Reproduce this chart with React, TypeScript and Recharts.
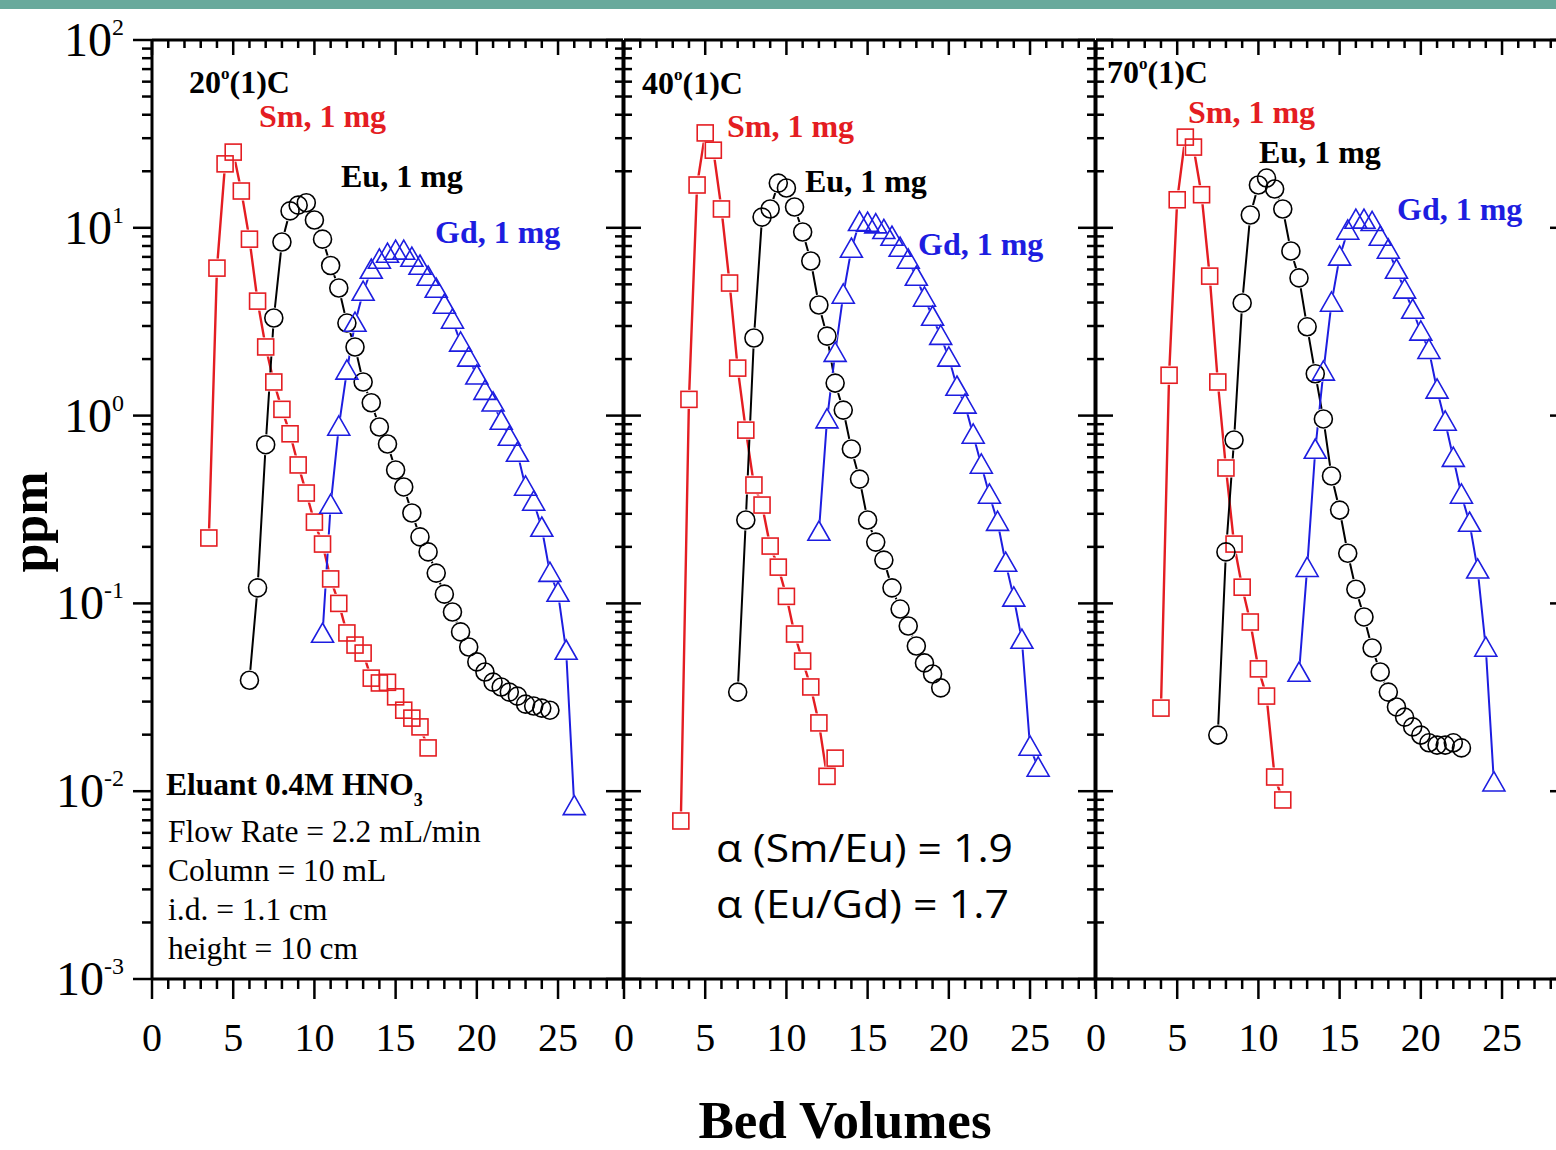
import React from "react";
import { LineChart, Line, XAxis, YAxis } from "recharts";

const SERIF = '"Liberation Serif", "Times New Roman", serif';
const SANS = '"Open Sans", "Noto Sans", sans-serif';
const RED = "#e41d22";
const BLUE = "#1d1de0";
const BLACK = "#000";
const TEAL = "#69a99c";

// fractions every 0.5 bed volume
const STEP = 0.5;
const X_MAX = 29;
const X_MAJOR = [0, 5, 10, 15, 20, 25];
const DECADES = [-3, -2, -1, 0, 1, 2];

// 20 C
const SM_20_START = 3.5;
const SM_20 = [0.223, 6.1, 21.9, 25.3, 15.7, 8.7, 4.07, 2.32, 1.51, 1.08, 0.8, 0.546, 0.387, 0.271, 0.207, 0.135, 0.1, 0.0696, 0.06, 0.0544, 0.04, 0.0377, 0.038, 0.0318, 0.027, 0.0245, 0.022, 0.017];
const EU_20_START = 6.0;
const EU_20 = [0.039, 0.121, 0.7, 3.31, 8.4, 12.3, 13.2, 13.6, 11.0, 8.7, 6.3, 4.78, 3.11, 2.32, 1.51, 1.17, 0.87, 0.706, 0.513, 0.417, 0.303, 0.226, 0.188, 0.145, 0.112, 0.09, 0.0705, 0.0586, 0.0488, 0.0431, 0.0381, 0.0359, 0.0337, 0.0321, 0.0291, 0.0284, 0.0277, 0.027];
const GD_20_START = 10.5;
const GD_20 = [0.0687, 0.334, 0.87, 1.73, 3.11, 4.55, 5.96, 6.74, 7.25, 7.52, 7.52, 6.9, 6.26, 5.47, 4.72, 3.88, 3.23, 2.44, 2.03, 1.63, 1.35, 1.17, 0.936, 0.769, 0.632, 0.417, 0.347, 0.252, 0.145, 0.1135, 0.0558, 0.0083];

// 40 C
const SM_40_START = 3.5;
const SM_40 = [0.00694, 1.22, 16.9, 32.0, 25.9, 12.6, 5.08, 1.79, 0.837, 0.427, 0.334, 0.202, 0.156, 0.109, 0.0687, 0.0493, 0.0359, 0.0231, 0.012, 0.015];
const EU_40_START = 7.0;
const EU_40 = [0.0337, 0.278, 2.59, 11.4, 12.6, 17.3, 16.3, 12.9, 9.5, 6.66, 3.88, 2.65, 1.49, 1.07, 0.664, 0.459, 0.278, 0.212, 0.17, 0.121, 0.0933, 0.0758, 0.0593, 0.0482, 0.0421, 0.0355];
const GD_40_START = 12.0;
const GD_40 = [0.24, 0.952, 2.15, 4.39, 7.71, 10.7, 10.6, 10.4, 9.7, 8.93, 7.8, 6.74, 5.47, 4.23, 3.35, 2.65, 2.03, 1.42, 1.14, 0.789, 0.546, 0.378, 0.271, 0.164, 0.107, 0.0638, 0.0172, 0.0133];

// 70 C
const SM_70_START = 4.0;
const SM_70 = [0.0277, 1.64, 14.1, 30.4, 26.9, 15.0, 5.53, 1.51, 0.526, 0.207, 0.122, 0.0796, 0.0448, 0.0321, 0.0119, 0.00898];
const EU_70_START = 7.5;
const EU_70 = [0.0199, 0.188, 0.741, 3.98, 11.7, 16.9, 18.4, 16.1, 12.6, 7.52, 5.41, 2.97, 1.67, 0.96, 0.477, 0.314, 0.185, 0.119, 0.0847, 0.0579, 0.0431, 0.0337, 0.0281, 0.0248, 0.022, 0.0199, 0.0181, 0.0176, 0.0176, 0.0181, 0.017];
const GD_70_START = 12.5;
const GD_70 = [0.0426, 0.154, 0.656, 1.71, 3.98, 7.0, 9.62, 11.0, 11.0, 10.7, 8.93, 7.62, 5.96, 4.67, 3.65, 2.79, 2.23, 1.37, 0.925, 0.594, 0.378, 0.268, 0.151, 0.0579, 0.0111];

const toPoints = (start: number, vals: number[]) =>
  vals.map((v, i) => ({ bv: start + i * STEP, ppm: v }));

const X_TICKS = Array.from({ length: X_MAX + 1 }, (_, i) => i);
const Y_TICKS = DECADES.flatMap((e) =>
  e === DECADES[DECADES.length - 1] ? [Math.pow(10, e)] : [1, 2, 3, 4, 5, 6, 7, 8, 9].map((m) => m * Math.pow(10, e))
);

const PLOT_W = 471;
const PLOT_TOP = 40;
const PLOT_BOTTOM = 979;
const CHART_W = 1620;
const CHART_H = 1150;

const PANELS = [
  { left: 152, sm: toPoints(SM_20_START, SM_20), eu: toPoints(EU_20_START, EU_20), gd: toPoints(GD_20_START, GD_20) },
  { left: 624, sm: toPoints(SM_40_START, SM_40), eu: toPoints(EU_40_START, EU_40), gd: toPoints(GD_40_START, GD_40) },
  { left: 1096, sm: toPoints(SM_70_START, SM_70), eu: toPoints(EU_70_START, EU_70), gd: toPoints(GD_70_START, GD_70) },
];

const isDecade = (v: number) => Math.abs(Math.log10(v) - Math.round(Math.log10(v))) < 1e-6;

const BottomTick = (props: any) => {
  const { x, y, payload } = props;
  const v = payload.value;
  const major = X_MAJOR.includes(v);
  return (
    <g>
      <line x1={x} x2={x} y1={y} y2={y + (major ? 20 : 10)} stroke={BLACK} strokeWidth={2.5} />
      {major && (
        <text x={x} y={y + 72} textAnchor="middle" fontFamily={SERIF} fontSize={40} fill={BLACK}>
          {v}
        </text>
      )}
    </g>
  );
};

const TopTick = (props: any) => {
  const { x, y, payload } = props;
  const major = X_MAJOR.includes(payload.value);
  return <line x1={x} x2={x} y1={y} y2={y + (major ? 15 : 8)} stroke={BLACK} strokeWidth={2.5} />;
};

const LeftTick = (props: any) => {
  const { x, y, payload, outward } = props;
  const v = payload.value;
  const major = isDecade(v);
  if (!outward) {
    return <line x1={x} x2={x + (major ? 17 : 8)} y1={y} y2={y} stroke={BLACK} strokeWidth={2.5} />;
  }
  return (
    <g>
      <line x1={x} x2={x - (major ? 19 : 10)} y1={y} y2={y} stroke={BLACK} strokeWidth={2.5} />
      {major && (
        <text x={x - 28} y={y + 16} textAnchor="end" fontFamily={SERIF} fontSize={48} fill={BLACK}>
          10
          <tspan dy={-21} fontSize={24}>
            {Math.round(Math.log10(v))}
          </tspan>
        </text>
      )}
    </g>
  );
};

const RightTick = (props: any) => {
  const { x, y, payload } = props;
  const major = isDecade(payload.value);
  return <line x1={x} x2={x - (major ? 17 : 8)} y1={y} y2={y} stroke={BLACK} strokeWidth={2.5} />;
};

const square = (color: string, fill: string, s: number, sw: number) => (p: any) => (
  <rect key={`s${p.index}`} x={p.cx - s / 2} y={p.cy - s / 2} width={s} height={s} fill={fill} stroke={color} strokeWidth={sw} />
);
const circle = (color: string, fill: string, r: number, sw: number) => (p: any) => (
  <circle key={`c${p.index}`} cx={p.cx} cy={p.cy} r={r} fill={fill} stroke={color} strokeWidth={sw} />
);
const triangle = (color: string, fill: string, h: number, sw: number) => (p: any) => (
  <path
    key={`t${p.index}`}
    d={`M${p.cx},${p.cy - h} L${p.cx + h},${p.cy + h * 0.75} L${p.cx - h},${p.cy + h * 0.75} Z`}
    fill={fill}
    stroke={color}
    strokeWidth={sw}
    strokeLinejoin="miter"
  />
);

const PanelChart = ({ p, idx }: { p: (typeof PANELS)[number]; idx: number }) => {
  const common = { xAxisId: "b", yAxisId: "l", dataKey: "ppm", isAnimationActive: false, activeDot: false } as const;
  return (
    <LineChart
      width={CHART_W}
      height={CHART_H}
      margin={{ top: PLOT_TOP - 20, left: p.left - 40, right: CHART_W - p.left - PLOT_W - 40, bottom: CHART_H - PLOT_BOTTOM - 20 }}
    >
      <XAxis
        xAxisId="b"
        type="number"
        dataKey="bv"
        domain={[0, X_MAX]}
        ticks={X_TICKS}
        interval={0}
        height={20}
        tickSize={0}
        tickMargin={0}
        tickLine={false}
        axisLine={{ stroke: BLACK, strokeWidth: 3 }}
        tick={BottomTick}
        allowDataOverflow
      />
      <XAxis
        xAxisId="t"
        orientation="top"
        type="number"
        dataKey="bv"
        domain={[0, X_MAX]}
        ticks={X_TICKS}
        interval={0}
        height={20}
        tickSize={0}
        tickMargin={0}
        tickLine={false}
        axisLine={{ stroke: BLACK, strokeWidth: 3 }}
        tick={TopTick}
        allowDataOverflow
      />
      <YAxis
        yAxisId="l"
        type="number"
        scale="log"
        domain={[0.001, 100]}
        ticks={Y_TICKS}
        interval={0}
        width={40}
        tickSize={0}
        tickMargin={0}
        tickLine={false}
        axisLine={{ stroke: BLACK, strokeWidth: 3 }}
        tick={(tp: any) => <LeftTick {...tp} outward={idx === 0} />}
        allowDataOverflow
      />
      <YAxis
        yAxisId="r"
        orientation="right"
        type="number"
        scale="log"
        domain={[0.001, 100]}
        ticks={Y_TICKS}
        interval={0}
        width={40}
        tickSize={0}
        tickMargin={0}
        tickLine={false}
        axisLine={{ stroke: BLACK, strokeWidth: 3 }}
        tick={RightTick}
        allowDataOverflow
      />
      {/* connecting lines */}
      <Line {...common} data={p.sm} stroke={RED} strokeWidth={2.4} dot={false} />
      <Line {...common} data={p.eu} stroke={BLACK} strokeWidth={2} dot={false} />
      <Line {...common} data={p.gd} stroke={BLUE} strokeWidth={2} dot={false} />
      {/* gaps around the symbols */}
      <Line {...common} data={p.sm} stroke="none" dot={square("none", "#fff", 19, 0)} />
      <Line {...common} data={p.eu} stroke="none" dot={circle("none", "#fff", 10.5, 0)} />
      <Line {...common} data={p.gd} stroke="none" dot={triangle("none", "#fff", 12.5, 0)} />
      {/* open symbols */}
      <Line {...common} data={p.sm} stroke="none" dot={square(RED, "none", 16, 1.6)} />
      <Line {...common} data={p.eu} stroke="none" dot={circle(BLACK, "none", 9, 1.6)} />
      <Line {...common} data={p.gd} stroke="none" dot={triangle(BLUE, "none", 11, 1.6)} />
    </LineChart>
  );
};

const Label = ({ x, y, color, text }: { x: number; y: number; color: string; text: string }) => (
  <text x={x} y={y} fill={color} fontFamily={SERIF} fontWeight="bold" fontSize={32}>
    {text}
  </text>
);

const Temp = ({ x, y, t }: { x: number; y: number; t: string }) => (
  <text x={x} y={y} fill={BLACK} fontFamily={SERIF} fontWeight="bold" fontSize={32}>
    {t}
    <tspan dy={-14} fontSize={17}>
      o
    </tspan>
    <tspan dy={14}>(1)C</tspan>
  </text>
);

export default function App() {
  return (
    <div style={{ position: "absolute", left: 0, top: 0, width: 1556, height: 1150, overflow: "hidden", background: "#fff" }}>
      <div style={{ position: "absolute", left: 0, top: 0, width: 1556, height: 9, background: TEAL }} />
      {PANELS.map((p, i) => (
        <div key={i} style={{ position: "absolute", left: 0, top: 0 }}>
          <PanelChart p={p} idx={i} />
        </div>
      ))}
      <svg width={1556} height={1150} style={{ position: "absolute", left: 0, top: 0, pointerEvents: "none" }}>
        <Temp x={189} y={93} t="20" />
        <Label x={259} y={127} color={RED} text="Sm, 1 mg" />
        <Label x={341} y={187} color={BLACK} text="Eu, 1 mg" />
        <Label x={435} y={243} color={BLUE} text="Gd, 1 mg" />

        <Temp x={642} y={94} t="40" />
        <Label x={727} y={137} color={RED} text="Sm, 1 mg" />
        <Label x={805} y={192} color={BLACK} text="Eu, 1 mg" />
        <Label x={918} y={255} color={BLUE} text="Gd, 1 mg" />

        <Temp x={1107} y={83} t="70" />
        <Label x={1188} y={123} color={RED} text="Sm, 1 mg" />
        <Label x={1259} y={163} color={BLACK} text="Eu, 1 mg" />
        <Label x={1397} y={220} color={BLUE} text="Gd, 1 mg" />

        <text x={166} y={795} fontFamily={SERIF} fontWeight="bold" fontSize={31.5} fill={BLACK}>
          Eluant 0.4M HNO
          <tspan dy={11} fontSize={18}>
            3
          </tspan>
        </text>
        <text fontFamily={SERIF} fontSize={31.5} fill={BLACK}>
          <tspan x={168} y={842}>Flow Rate = 2.2 mL/min</tspan>
          <tspan x={168} y={881}>Column = 10 mL</tspan>
          <tspan x={168} y={920}>i.d. = 1.1 cm</tspan>
          <tspan x={168} y={959}>height = 10 cm</tspan>
        </text>

        <text x={716} y={862} fontFamily={SANS} fontSize={38} fill={BLACK} textLength={297} lengthAdjust="spacingAndGlyphs">
          α (Sm/Eu) = 1.9
        </text>
        <text x={716} y={918} fontFamily={SANS} fontSize={38} fill={BLACK} textLength={293} lengthAdjust="spacingAndGlyphs">
          α (Eu/Gd) = 1.7
        </text>

        <text x={47} y={522} transform="rotate(-90 47 522)" textAnchor="middle" fontFamily={SERIF} fontWeight="bold" fontSize={52} fill={BLACK}>
          ppm
        </text>
        <text x={845} y={1138} textAnchor="middle" fontFamily={SERIF} fontWeight="bold" fontSize={53} fill={BLACK}>
          Bed Volumes
        </text>
      </svg>
    </div>
  );
}
